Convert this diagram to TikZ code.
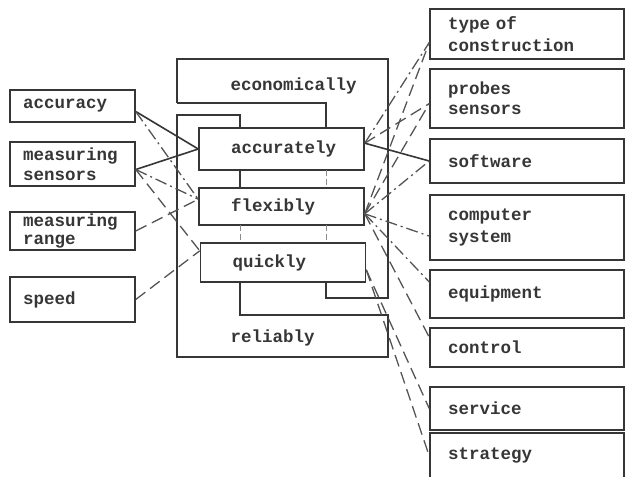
\documentclass[tikz,border=0pt]{standalone}
\usepackage{fontspec}
\newfontfamily\typer{Liberation Mono}
\definecolor{ink}{HTML}{363636}
\definecolor{pale}{HTML}{8C8C8C}
\tikzset{
	tw/.style={font=\typer\bfseries\fontsize{17.5}{20}\selectfont, text=ink},
	lbox/.style={tw, draw=ink, line width=1.5pt, text width=99pt, inner xsep=13pt, inner ysep=0pt, align=left},
	rbox/.style={tw, draw=ink, line width=1.5pt, text width=158pt, inner xsep=18pt, inner ysep=0pt, align=left},
	mbox/.style={tw, draw=ink, line width=1.5pt, text width=101pt, inner xsep=32pt, inner ysep=0pt, align=left},
	frame/.style={draw=ink, line width=1.5pt},
	faintln/.style={draw=pale, line width=1pt, dash pattern=on 6pt off 3pt},
	solidln/.style={draw=ink, line width=1.6pt},
	dashln/.style={draw=ink!85, line width=1.3pt, dash pattern=on 12pt off 6pt},
	dotln/.style={draw=ink!85, line width=1.3pt, dash pattern=on 12pt off 4pt on 2pt off 4pt}
}
\begin{document}
\begin{tikzpicture}[x=1pt,y=-1pt]
	\useasboundingbox (0,0) rectangle (628,476);
	% features on the left
	\node[lbox, minimum height=32pt] (accuracy) at (72.5,106) {accuracy};
	\node[lbox, minimum height=44pt] (sensors) at (72.5,164) {measuring\\sensors};
	\node[lbox, minimum height=38pt, font=\typer\bfseries\fontsize{17.5}{18}\selectfont] (range) at (72.5,231) {measuring\\range};
	\node[lbox, minimum height=45pt] (speed) at (72.5,299.5) {speed};
	
	% nested goals in the middle
	\node[mbox, minimum height=42pt] (accurately) at (281.5,149) {accurately};
	\node[mbox, minimum height=37pt] (flexibly) at (281.5,206.5) {flexibly};
	\node[mbox, minimum height=39pt] (quickly) at (283,262.5) {quickly};
	\node[tw, anchor=west] (econ) at (227,86) {economically};
	\node[tw, anchor=west] (reliab) at (227,338) {reliably};
	\draw[frame] (177,103) -- (177,59) -- (388,59) -- (388,298) -- (326,298) -- (326,282);
	\draw[frame] (177,103) -- (326,103) -- (326,128);
	\draw[faintln] (326,170) -- (326,188) (326,225) -- (326,243);
	\draw[frame] (240,128) -- (240,115) -- (177,115) -- (177,357) -- (388,357) -- (388,315) -- (240,315) -- (240,282);
	\draw[frame] (240,170) -- (240,188);
	\draw[faintln] (240,225) -- (240,243);
	
	% means on the right
	\node[rbox, minimum height=50pt, font=\typer\bfseries\fontsize{17.5}{22}\selectfont] (typecon) at (527,34) {type of\\construction};
	\node[rbox, minimum height=59pt] (probes) at (527,98.5) {probes\\sensors};
	\node[rbox, minimum height=44pt] (software) at (527,161) {software};
	\node[rbox, minimum height=65pt, font=\typer\bfseries\fontsize{17.5}{22}\selectfont] (computer) at (527,227.5) {computer\\system};
	\node[rbox, minimum height=48pt] (equipment) at (527,294) {equipment};
	\node[rbox, minimum height=39pt] (control) at (527,347.5) {control};
	\node[rbox, minimum height=43pt] (service) at (527,408.5) {service};
	\node[rbox, minimum height=46pt] (strategy) at (527,456) {strategy};
	
	% links from the left
	\draw[solidln] (accuracy.-5) -- (accurately.west);
	\draw[dotln] (accuracy.-5) -- (flexibly.175);
	\draw[solidln] (sensors.-5) -- (accurately.west);
	\draw[dotln] (sensors.-5) -- (flexibly.175);
	\draw[dashln] (sensors.-5) -- (quickly.172);
	\draw[dashln] (range.east) -- (flexibly.175);
	\draw[dashln] (speed.east) -- (quickly.172);
	
	% links to the right
	\draw[dotln] (accurately.4) -- (typecon.185);
	\draw[dashln] (accurately.4) -- (probes.183);
	\draw[solidln] (accurately.4) -- (software.west);
	\draw[dashln] (flexibly.-5) -- (typecon.185);
	\draw[dashln] (flexibly.-5) -- (probes.183);
	\draw[dotln] (flexibly.-5) -- (software.west);
	\draw[dotln] (flexibly.-5) -- (computer.185);
	\draw[dotln] (flexibly.-5) -- (equipment.173);
	\draw[dashln] (flexibly.-5) -- (control.174);
	\draw[dashln] (quickly.-5) -- (service.west);
	\draw[dashln] (quickly.-5) -- (strategy.west);
\end{tikzpicture}
\end{document}
